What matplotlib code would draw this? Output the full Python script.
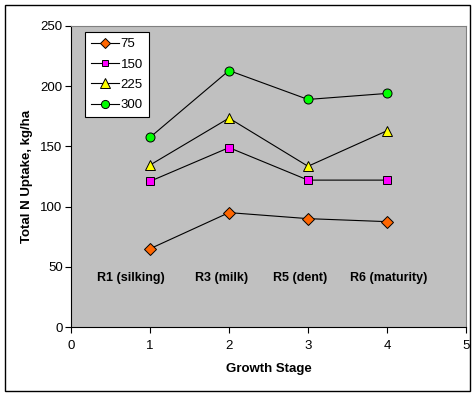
import matplotlib
matplotlib.use("Agg")
import matplotlib.pyplot as plt
from matplotlib.patches import Rectangle

plt.rcParams['font.family'] = ['Liberation Sans', 'DejaVu Sans']

stages = [1, 2, 3, 4]
series_names = ['75', '150', '225', '300']
n75 = [65, 95, 90, 87.5]
n150 = [121, 149, 122, 122]
n225 = [134.5, 173.5, 133.5, 163]
n300 = [157.5, 213, 189, 194]
stage_labels = ['R1 (silking)', 'R3 (milk)', 'R5 (dent)', 'R6 (maturity)']
label_x = [0.76, 1.9, 2.9, 4.02]
label_y = 41

W, H = 476, 397
fig = plt.figure(figsize=(W / 100, H / 100), dpi=100)
fig.patch.set_facecolor('white')
left, right, top, bottom = 71, 466, 26, 327
ax = fig.add_axes([left / W, 1 - bottom / H, (right - left) / W, (bottom - top) / H])
ax.set_facecolor('#C0C0C0')

styles = [
    dict(marker='D', markerfacecolor='#FF6600', markersize=6),
    dict(marker='s', markerfacecolor='#FF00FF', markersize=5.5),
    dict(marker='^', markerfacecolor='#FFFF00', markersize=7.5),
    dict(marker='o', markerfacecolor='#00FF00', markersize=6.5),
]
for vals, name, st in zip([n75, n150, n225, n300], series_names, styles):
    ax.plot(stages, vals, color='black', linewidth=0.8, markeredgecolor='black',
            markeredgewidth=0.7, label=name, **st)

for x, t in zip(label_x, stage_labels):
    ax.text(x, label_y, t, ha='center', va='center', fontsize=9, fontweight='bold')

ax.set_xlim(0, 5)
ax.set_ylim(0, 250)
ax.set_xticks(range(0, 6))
ax.set_yticks(range(0, 251, 50))
ax.tick_params(direction='out', length=4.5, width=0.8, labelsize=9.5)
ax.tick_params(axis='y', pad=1.5)
ax.tick_params(axis='x', pad=5)
for s in ['top', 'right']:
    ax.spines[s].set_color('#808080')
for s in ['left', 'bottom']:
    ax.spines[s].set_color('black')
ax.set_xlabel('Growth Stage', fontsize=9.5, fontweight='bold', labelpad=8)
ax.set_ylabel('Total N Uptake, kg/ha', fontsize=9.5, fontweight='bold', labelpad=5)

leg = ax.legend(loc='upper left', bbox_to_anchor=((85 - left) / (right - left), 1 - (32 - top) / (bottom - top)),
                frameon=True, fancybox=False, edgecolor='black', facecolor='white',
                framealpha=1, fontsize=9.5, handlelength=2.1, borderaxespad=0,
                labelspacing=0.62, handletextpad=0.15, borderpad=0.45, markerscale=0.9)
leg.get_frame().set_linewidth(0.8)

fig.add_artist(Rectangle((5 / W, 1 - 391 / H), 465 / W, 386 / H, transform=fig.transFigure,
                         fill=False, edgecolor='black', linewidth=1))

fig.savefig('out.png', dpi=100)
